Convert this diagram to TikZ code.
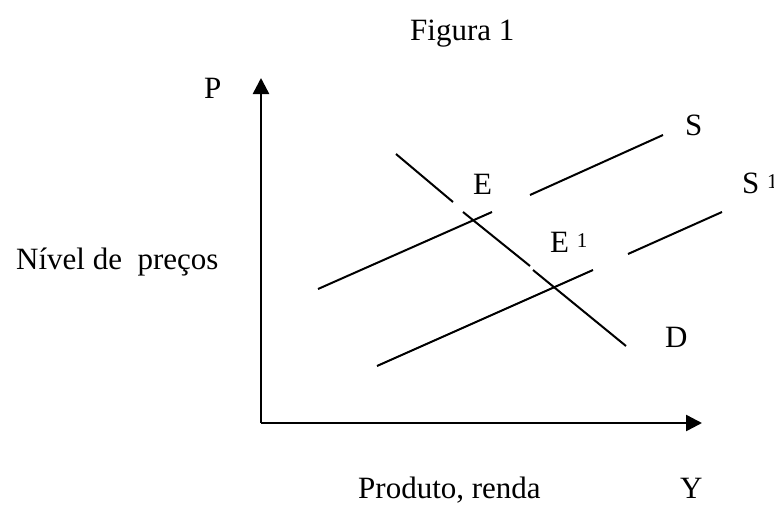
\documentclass[tikz,border=0pt]{standalone}
\usepackage{fontspec}
\setmainfont{Liberation Serif}
\usetikzlibrary{arrows.meta}
\newcommand{\supone}{\raisebox{5pt}{\fontsize{21}{22}\selectfont 1}}
\tikzset{
  lbl/.style={anchor=base west,inner sep=0pt,font=\fontsize{31}{36}\selectfont},
  axis/.style={line width=2.5pt,-{Triangle[length=16pt,width=16pt]}},
  curve/.style={line width=2pt}
}
\begin{document}
\begin{tikzpicture}[x=1pt,y=-1pt]
  % bounding box
  \useasboundingbox (0,0) rectangle (774,504);
  % Axes
  \coordinate (O) at (261,423);
  \coordinate (Ptip) at (261,78);
  \coordinate (Ytip) at (702,423);
  \draw[axis] (O) -- (Ptip);
  \draw[axis] (O) -- (Ytip);
  % Supply S
  \draw[curve] (318,289) -- (492,212);
  \draw[curve] (530,195) -- (663,135);
  % Supply S1
  \draw[curve] (377,366) -- (593,270);
  \draw[curve] (628,254) -- (722,212);
  % Demand D
  \draw[curve] (396,154) -- (453,202);
  \draw[curve] (463,212) -- (530,266);
  \draw[curve] (533,270) -- (626,346);
  % Labels
  \node[lbl] (fig) at (410,40) {Figura 1};
  \node[lbl] (p) at (204,98) {P};
  \node[lbl] (s) at (685,135) {S};
  \node[lbl] (s1) at (742,193) {S \supone};
  \node[lbl] (e) at (473,194) {E};
  \node[lbl] (e1) at (550,252) {E \supone};
  \node[lbl] (d) at (665,347) {D};
  \node[lbl] (nivel) at (16,269) {Nível de\ \ preços};
  \node[lbl] (prod) at (358,498) {Produto, renda};
  \node[lbl] (y) at (680,498) {Y};
\end{tikzpicture}
\end{document}
